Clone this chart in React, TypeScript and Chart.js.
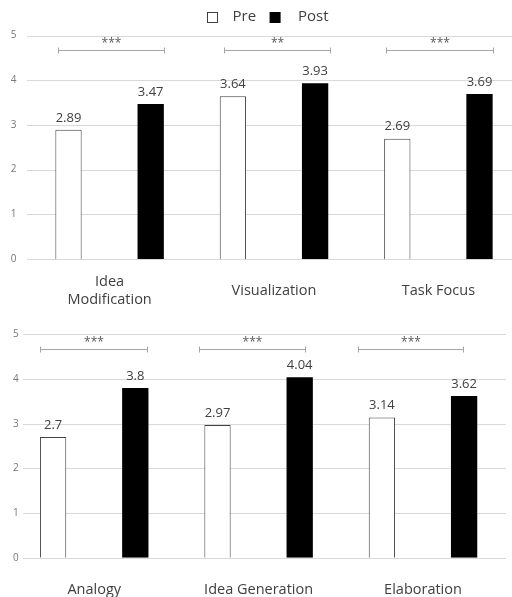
import React, { useEffect, useRef } from 'react';
import { Chart, registerables } from 'chart.js';

Chart.register(...registerables);

// ---- data ----
const seriesNames = ['Pre', 'Post'];
const topCategories: (string | string[])[] = [['Idea', 'Modification'], 'Visualization', 'Task Focus'];
const topPre = [2.89, 3.64, 2.69];
const topPost = [3.47, 3.93, 3.69];
const topStars = ['***', '**', '***'];

const bottomCategories: (string | string[])[] = ['Analogy', 'Idea Generation', 'Elaboration'];
const bottomPre = [2.7, 2.97, 3.14];
const bottomPost = [3.8, 4.04, 3.62];
const bottomStars = ['***', '***', '***'];

const yMin = 0;
const yMax = 5;
const yStep = 1;
const bracketLevel = 4.67;

// ---- styling ----
const FONT = '"Open Sans", "Noto Sans", sans-serif';
const TEXT = '#404040';
const GRID = '#d9d9d9';
const BRACKET = '#a6a6a6';

type Geometry = {
  canvasW: number;
  canvasH: number;
  padTop: number;
  padRight: number;
  yAxisW: number;
  xAxisH: number;
  mirror: boolean;
  yTickPad: number;
  xTickPad: number;
  crossAlign: 'near' | 'center' | 'far';
  gridLeft: number;
  gridRight: number;
  legend: boolean;
  spans: [number, number][];
};

type PanelProps = {
  labels: (string | string[])[];
  pre: number[];
  post: number[];
  stars: string[];
  geo: Geometry;
};

function Panel({ labels, pre, post, stars, geo }: PanelProps) {
  const ref = useRef<HTMLCanvasElement | null>(null);

  useEffect(() => {
    if (!ref.current) return;

    const gridPlugin = {
      id: 'hgrid',
      beforeDatasetsDraw(chart: any) {
        const y = chart.scales.y;
        const ctx = chart.ctx;
        ctx.save();
        ctx.strokeStyle = GRID;
        ctx.lineWidth = 1;
        y.ticks.forEach((t: any) => {
          const py = Math.round(y.getPixelForValue(t.value)) + 0.5;
          ctx.beginPath();
          ctx.moveTo(geo.gridLeft, py);
          ctx.lineTo(geo.gridRight, py);
          ctx.stroke();
        });
        ctx.restore();
      },
    };

    const valuePlugin = {
      id: 'valueLabels',
      afterDatasetsDraw(chart: any) {
        const ctx = chart.ctx;
        ctx.save();
        ctx.font = `13px ${FONT}`;
        ctx.fillStyle = TEXT;
        ctx.textAlign = 'center';
        ctx.textBaseline = 'middle';
        chart.data.datasets.forEach((ds: any, di: number) => {
          const meta = chart.getDatasetMeta(di);
          meta.data.forEach((bar: any, i: number) => {
            ctx.fillText(String(ds.data[i]), bar.x, bar.y - 12);
          });
        });
        ctx.restore();
      },
    };

    const bracketPlugin = {
      id: 'brackets',
      afterDatasetsDraw(chart: any) {
        const ctx = chart.ctx;
        const xs = chart.scales.x;
        const ys = chart.scales.y;
        const ly = Math.round(ys.getPixelForValue(bracketLevel)) + 0.5;
        ctx.save();
        ctx.strokeStyle = BRACKET;
        ctx.lineWidth = 1;
        stars.forEach((s, i) => {
          const [l, r] = geo.spans[i];
          const xl = Math.round(xs.getPixelForValue(i + l)) + 0.5;
          const xr = Math.round(xs.getPixelForValue(i + r)) + 0.5;
          ctx.beginPath();
          ctx.moveTo(xl, ly);
          ctx.lineTo(xr, ly);
          ctx.moveTo(xl, ly - 3);
          ctx.lineTo(xl, ly + 3);
          ctx.moveTo(xr, ly - 3);
          ctx.lineTo(xr, ly + 3);
          ctx.stroke();
          ctx.font = `12px ${FONT}`;
          ctx.fillStyle = '#595959';
          ctx.textAlign = 'center';
          ctx.textBaseline = 'alphabetic';
          ctx.fillText(s, (xl + xr) / 2, ly - 4);
        });
        ctx.restore();
      },
    };

    const legendPlugin = {
      id: 'customLegend',
      afterDraw(chart: any) {
        if (!geo.legend) return;
        const ctx = chart.ctx;
        ctx.save();
        ctx.font = `15px ${FONT}`;
        ctx.textBaseline = 'middle';
        ctx.textAlign = 'left';
        let x = 207.5;
        const boxY = 12.5;
        const box = 10;
        chart.data.datasets.forEach((ds: any, i: number) => {
          ctx.fillStyle = ds.backgroundColor;
          ctx.fillRect(x, boxY, box, box);
          ctx.strokeStyle = ds.borderColor;
          ctx.lineWidth = 1;
          ctx.strokeRect(x, boxY, box, box);
          x += box + (i === 0 ? 15 : 18);
          ctx.fillStyle = TEXT;
          ctx.fillText(ds.label, x, 17);
          x += ctx.measureText(ds.label).width + 14;
        });
        ctx.restore();
      },
    };

    const chart = new Chart(ref.current, {
      type: 'bar',
      data: {
        labels,
        datasets: [
          {
            label: seriesNames[0],
            data: pre,
            backgroundColor: '#ffffff',
            borderColor: TEXT,
            borderWidth: 1,
            barPercentage: 0.32,
            categoryPercentage: 1,
          },
          {
            label: seriesNames[1],
            data: post,
            backgroundColor: '#000000',
            borderColor: '#000000',
            borderWidth: 0,
            barPercentage: 0.32,
            categoryPercentage: 1,
          },
        ],
      },
      options: {
        responsive: false,
        animation: false,
        devicePixelRatio: 1,
        layout: { padding: { top: geo.padTop, right: geo.padRight, left: 0, bottom: 0 } },
        plugins: {
          legend: { display: false },
          tooltip: { enabled: false },
        },
        scales: {
          x: {
            type: 'category',
            grid: { display: false, drawTicks: false },
            border: { display: false },
            ticks: {
              font: { family: FONT, size: 14.5 },
              color: TEXT,
              padding: geo.xTickPad,
              crossAlign: geo.crossAlign,
              maxRotation: 0,
              minRotation: 0,
              autoSkip: false,
            },
            afterFit: (s: any) => {
              s.height = geo.xAxisH;
            },
          },
          y: {
            min: yMin,
            max: yMax,
            grid: { display: false, drawTicks: false },
            border: { display: false },
            ticks: {
              stepSize: yStep,
              font: { family: FONT, size: 10 },
              color: '#777777',
              padding: geo.yTickPad,
              mirror: geo.mirror,
            },
            afterFit: (s: any) => {
              s.width = geo.yAxisW;
            },
          },
        },
      },
      plugins: [gridPlugin, valuePlugin, bracketPlugin, legendPlugin],
    } as any);

    return () => chart.destroy();
  }, [labels, pre, post, stars, geo]);

  return <canvas ref={ref} width={geo.canvasW} height={geo.canvasH} style={{ display: 'block' }} />;
}

const topGeo: Geometry = {
  canvasW: 521,
  canvasH: 310,
  padTop: 35.5,
  padRight: 0.4,
  yAxisW: 27.4,
  xAxisH: 51,
  mirror: false,
  yTickPad: 11,
  xTickPad: 23,
  crossAlign: 'center',
  gridLeft: 27,
  gridRight: 521,
  legend: true,
  spans: [
    [-0.312, 0.333],
    [-0.302, 0.342],
    [-0.316, 0.332],
  ],
};

const bottomGeo: Geometry = {
  canvasW: 512,
  canvasH: 287,
  padTop: 24.3,
  padRight: 6.8,
  yAxisW: 12,
  xAxisH: 39.3,
  mirror: true,
  yTickPad: 1,
  xTickPad: 23,
  crossAlign: 'near',
  gridLeft: 23,
  gridRight: 506,
  legend: false,
  spans: [
    [-0.328, 0.32],
    [-0.36, 0.285],
    [-0.396, 0.246],
  ],
};

export default function App() {
  return (
    <div
      style={{
        position: 'fixed',
        left: 0,
        top: 0,
        width: 512,
        height: 597,
        overflow: 'hidden',
        background: '#ffffff',
      }}
    >
      <div style={{ position: 'absolute', left: 0, top: 0, width: 512, height: 310, overflow: 'hidden' }}>
        <Panel labels={topCategories} pre={topPre} post={topPost} stars={topStars} geo={topGeo} />
      </div>
      <div style={{ position: 'absolute', left: 0, top: 310, width: 512, height: 287, overflow: 'hidden' }}>
        <Panel labels={bottomCategories} pre={bottomPre} post={bottomPost} stars={bottomStars} geo={bottomGeo} />
      </div>
    </div>
  );
}
